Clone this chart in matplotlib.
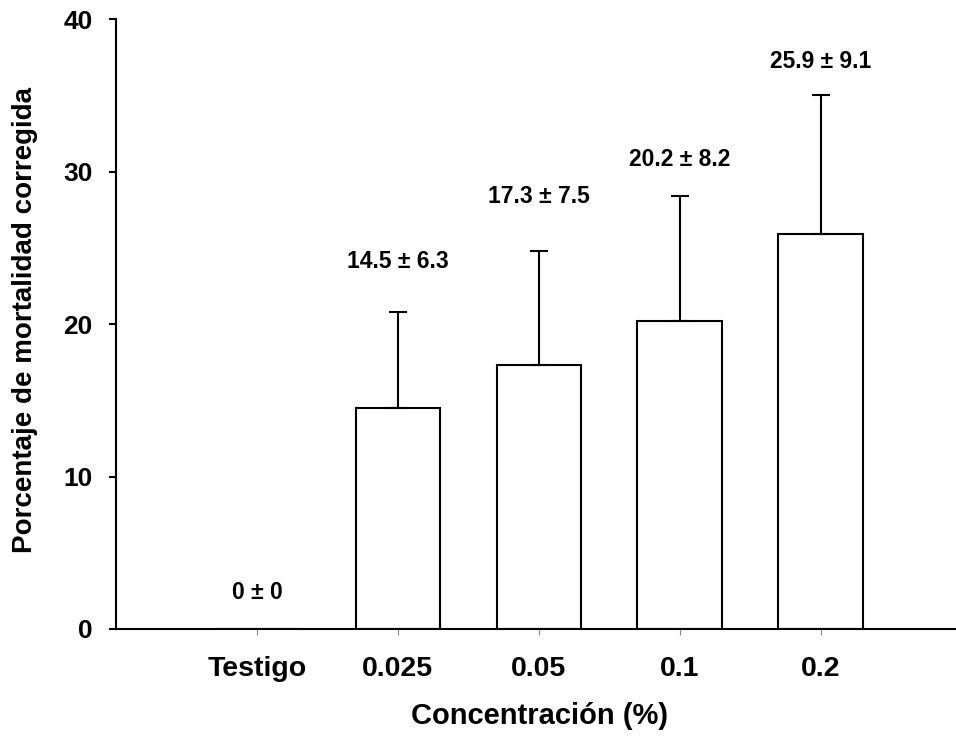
import matplotlib
matplotlib.use("Agg")
import matplotlib.pyplot as plt
import numpy as np

categories = ["Testigo", "0.025", "0.05", "0.1", "0.2"]
means = [0.0, 14.5, 17.3, 20.2, 25.9]
errors = [0.0, 6.3, 7.5, 8.2, 9.1]
labels = ["0 ± 0", "14.5 ± 6.3", "17.3 ± 7.5", "20.2 ± 8.2", "25.9 ± 9.1"]
y_ticks = [0, 10, 20, 30, 40]

# label offsets above the error bar top (points) - style
label_offsets = [26, 36, 39, 26, 24.5]

plt.rcParams['font.family'] = ['Liberation Sans', 'DejaVu Sans']
plt.rcParams['font.weight'] = 'bold'

fig = plt.figure(figsize=(9.56, 7.38), dpi=100)
ax = fig.add_axes([116/956, 1 - 629/738, 1 - 116/956, (629 - 19)/738])

x = np.arange(len(categories))
ax.bar(x, means, width=0.6, color='white', edgecolor='black', linewidth=1.5, zorder=2)
lower = [0] * len(errors)
ax.errorbar(x[1:], means[1:], yerr=[lower[1:], errors[1:]], fmt='none', ecolor='black',
            elinewidth=1.5, capsize=6.5, capthick=1.5, zorder=3)

for xi, m, e, lab, off in zip(x, means, errors, labels, label_offsets):
    ax.annotate(lab, xy=(xi, m + e), xytext=(0, off), textcoords='offset points',
                ha='center', va='center', fontsize=16.5, fontweight='bold')

ax.set_xlim(-1.0, 4.96)
ax.set_ylim(0, 40)
ax.set_yticks(y_ticks)
ax.set_yticklabels([str(v) for v in y_ticks], fontsize=19, fontweight='bold')
ax.set_xticks(x)
ax.set_xticklabels(categories, fontsize=20.5, fontweight='bold')

for s in ['top', 'right']:
    ax.spines[s].set_visible(False)
ax.spines['left'].set_linewidth(1.5)
ax.spines['bottom'].set_linewidth(1.5)
ax.tick_params(axis='y', direction='out', length=5, width=1.5, pad=12)
ax.tick_params(axis='x', direction='out', length=4, width=0.8, color='#888888', pad=15.5)

ax.set_xlabel("Concentración (%)", fontsize=21, fontweight='bold')
ax.xaxis.set_label_coords((540 - 116) / 840, (629 - 716) / 610)
ax.xaxis.label.set_verticalalignment('center')
ax.set_ylabel("Porcentaje de mortalidad corregida", fontsize=20, fontweight='bold')
ax.yaxis.set_label_coords((25 - 116) / 840, (629 - 320) / 610)
ax.yaxis.label.set_verticalalignment('center')

fig.savefig("out.png", dpi=100)
